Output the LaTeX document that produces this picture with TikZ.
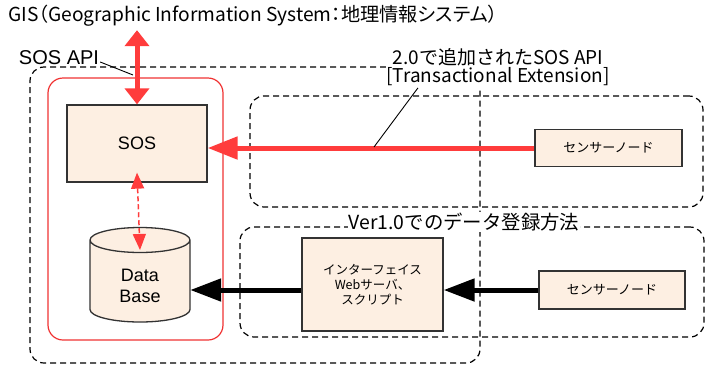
\documentclass[tikz,border=0pt]{standalone}
\usepackage{fontspec}
\setmainfont{Liberation Sans}
\newfontfamily\jp{Noto Sans CJK JP}
\newfontfamily\jpp[RawFeature=+palt]{Noto Sans CJK JP}
\usetikzlibrary{arrows.meta,calc}
\definecolor{redA}{RGB}{255,60,60}
\definecolor{redB}{RGB}{240,50,50}
\definecolor{boxfill}{RGB}{253,239,226}
\definecolor{boxline}{RGB}{51,51,51}
\tikzset{
  dbox/.style={draw=black, line width=1.2pt, dash pattern=on 6pt off 4pt, rounded corners=14pt},
  fbox/.style={draw=boxline, line width=1.3pt, fill=boxfill, inner sep=0pt},
  lbl/.style={fill=white, inner sep=1pt},
  leader/.style={draw=black, line width=0.9pt},
  redthick/.style={draw=redA, line width=5pt, -{Triangle[width=22pt,length=30pt]}},
  redboth/.style={draw=redA, line width=5pt, {Triangle[width=24pt,length=16pt]}-{Triangle[width=24pt,length=16pt]}},
  reddash/.style={draw=redA, line width=1.5pt, dash pattern=on 5pt off 3pt, {Triangle[width=13pt,length=16pt]}-{Triangle[width=13pt,length=16pt]}},
  blackthick/.style={draw=black, line width=5pt, -{Triangle[width=22pt,length=31pt]}}
}
\begin{document}
\begin{tikzpicture}[x=1pt,y=-1pt]
\useasboundingbox (0,0) rectangle (709,365);
% outer dashed area
\node (outer) [dbox, minimum width=450pt, minimum height=296pt, inner sep=0pt] at (255,215) {};
% upper right and lower right dashed areas
\node (upper) [dbox, minimum width=453pt, minimum height=111pt, inner sep=0pt] at (476.5,151.5) {};
\node (lower) [dbox, minimum width=464pt, minimum height=110pt, inner sep=0pt] at (472,282) {};
% red SOS API box
\node (redbox) [draw=redB, line width=1.2pt, rounded corners=15pt, minimum width=175pt, minimum height=262pt, inner sep=0pt] at (135.5,209) {};
% labels
\node (gis) at (253,16) {\jpp\fontsize{19.2}{22}\selectfont GIS（Geographic Information System：地理情報システム）};
\node (sosapi) [inner sep=1pt] at (59,58) {\fontsize{20}{24}\selectfont SOS API};
\node (tx) [lbl, align=center, font={\jp\fontsize{19}{18}\selectfont}] at (498,67) {2.0で追加されたSOS API\\{}[Transactional Extension]};
\node (ver) [lbl, font={\jp\fontsize{19.4}{22}\selectfont}] at (464,222) {Ver1.0でのデータ登録方法};
% boxes
\node (sos) [fbox, minimum width=140pt, minimum height=77pt, font=\fontsize{18}{21}\selectfont] at (137,143.5) {SOS};
\node (usensor) [fbox, minimum width=147pt, minimum height=37pt, font={\jp\fontsize{13}{15}\selectfont}] at (608.5,148) {センサーノード};
\node (lsensor) [fbox, minimum width=146pt, minimum height=38pt, font={\jp\fontsize{13}{15}\selectfont}] at (612,290) {センサーノード};
\node (iface) [fbox, minimum width=141pt, minimum height=93pt, align=center, font={\jp\fontsize{12.5}{15}\selectfont}] at (372.5,284.5) {インターフェイス\\Webサーバ、\\スクリプト};
% database cylinder
\fill[boxfill] (90,240) -- (90,309.5) arc[start angle=180,end angle=360,x radius=50pt,y radius=12.5pt] -- (190,240) arc[start angle=0,end angle=180,x radius=50pt,y radius=12.5pt] -- cycle;
\draw[boxline, line width=1.3pt] (90,240) -- (90,309.5) arc[start angle=180,end angle=360,x radius=50pt,y radius=12.5pt] -- (190,240) arc[start angle=0,end angle=180,x radius=50pt,y radius=12.5pt] arc[start angle=180,end angle=360,x radius=50pt,y radius=12.5pt];
\node (db) [align=center, minimum width=100pt, inner sep=0pt, font=\fontsize{18}{21}\selectfont] at (140,285.5) {Data\\Base};
\coordinate (dbtop) at (140,250);
% connectors
\draw[redboth] (sos.north) -- (sos.north |- gis.south);
\draw[reddash] ($(sos.south)+(0,-10)$) -- (dbtop);
\draw[redthick] (usensor.west) -- (usensor.west -| sos.east);
\draw[blackthick] (lsensor.west) -- (lsensor.west -| iface.east);
\draw[blackthick] (iface.west |- lsensor.west) -- (lsensor.west -| db.east);
% leader lines
\coordinate (sosapiend) at (133,75);
\draw[leader] ($(sosapi.east)+(0,4)$) -- (sosapiend);
\coordinate (txend) at (374,147);
\draw[leader] ($(tx.south)+(-80,1)$) -- (txend);
\end{tikzpicture}
\end{document}
